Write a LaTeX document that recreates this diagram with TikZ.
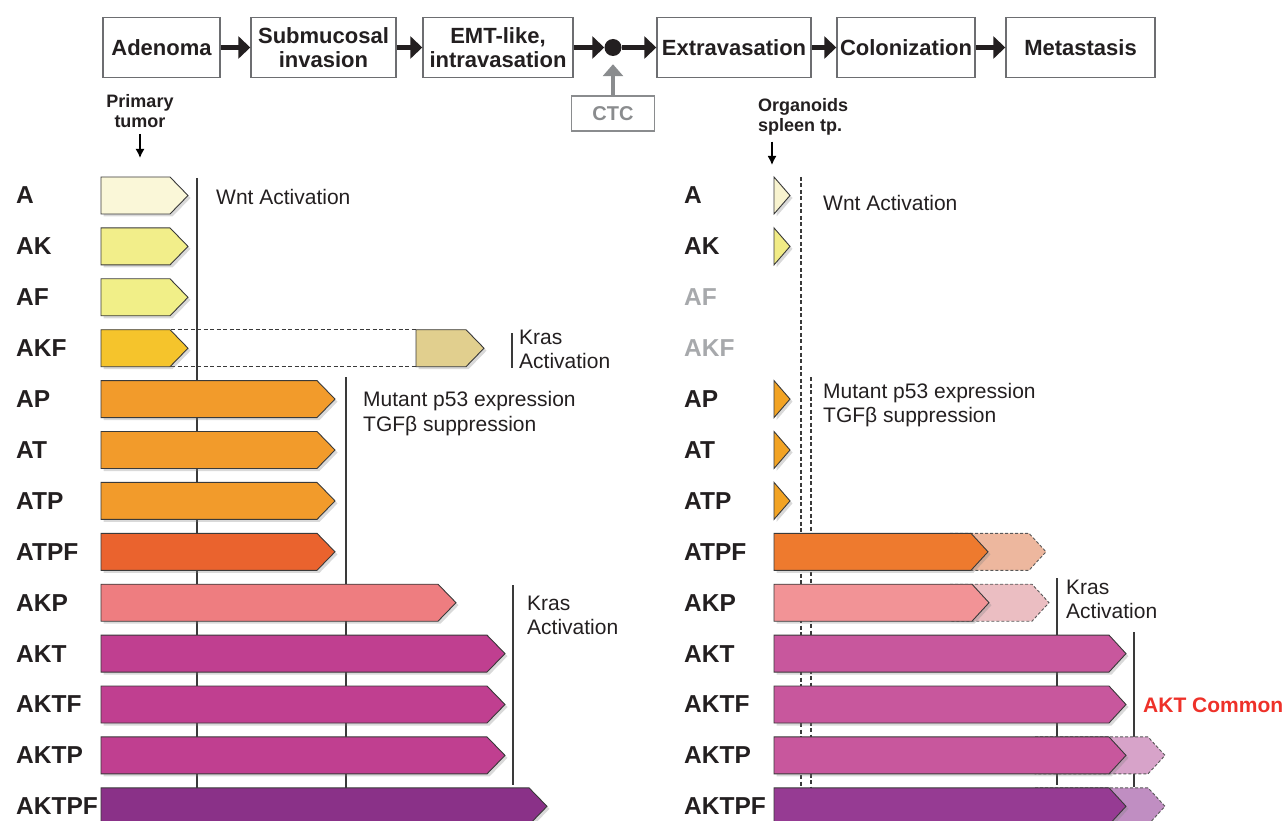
\documentclass[tikz,border=0pt]{standalone}
\usepackage{fontspec}
\setmainfont{Liberation Sans}
\usepackage{xcolor}
\usepackage{tikz}
\usetikzlibrary{arrows.meta,positioning,shadows}
\definecolor{Ink}{HTML}{231F20}
\definecolor{FrameGray}{HTML}{6D6E71}
\definecolor{CtcGray}{HTML}{8A8C8E}
\definecolor{DimLabel}{HTML}{A7A9AC}
\definecolor{BarEdge}{HTML}{3A3A3A}
\definecolor{CreamA}{HTML}{FAF7D8}
\definecolor{LemonAK}{HTML}{F2EE8A}
\definecolor{LemonAF}{HTML}{F1EF88}
\definecolor{GoldAKF}{HTML}{F5C42C}
\definecolor{KhakiAKF}{HTML}{E1CF8E}
\definecolor{OrangeP}{HTML}{F29B2B}
\definecolor{FlameATPF}{HTML}{EA632E}
\definecolor{SalmonAKP}{HTML}{EE7D80}
\definecolor{MagentaAKT}{HTML}{C03F90}
\definecolor{PlumAKTPF}{HTML}{8A3188}
\definecolor{OrgCream}{HTML}{F8F3CF}
\definecolor{OrgLemon}{HTML}{F1EB85}
\definecolor{OrgOrange}{HTML}{F2A324}
\definecolor{OrgFlame}{HTML}{EE7A2E}
\definecolor{OrgFlameFade}{HTML}{EDB79E}
\definecolor{OrgSalmon}{HTML}{F29396}
\definecolor{OrgSalmonFade}{HTML}{EBBEC2}
\definecolor{OrgMagenta}{HTML}{C8579D}
\definecolor{OrgMagentaFade}{HTML}{D7A3C9}
\definecolor{OrgPlum}{HTML}{963B93}
\definecolor{OrgPlumFade}{HTML}{C08EC2}
\definecolor{AktRed}{HTML}{EE3129}

\begin{document}
\begin{tikzpicture}[x=1pt, y=-1pt, >=Latex]
\tikzset{stage/.style={draw=FrameGray, line width=1.4pt, fill=white, align=center, text=Ink, font=\fontsize{22}{24}\selectfont\bfseries, inner sep=2pt, minimum height=60pt}, flow/.style={-{Triangle[length=12pt,width=22pt]}, line width=4.5pt, color=Ink}, rowlabel/.style={anchor=west, inner sep=0pt, text=Ink, font=\fontsize{24.5}{28}\selectfont\bfseries}, note/.style={anchor=west, align=left, inner sep=0pt, text=Ink, font=\fontsize{21}{24.5}\selectfont}, cue/.style={align=center, inner sep=0pt, text=Ink, font=\fontsize{18}{20}\selectfont\bfseries}, barline/.style={draw=BarEdge, line width=.9pt, line join=miter}, ghost/.style={draw=BarEdge!85, line width=.9pt, dash pattern=on 3pt off 2pt}, shade/.style={drop shadow={shadow xshift=2.5pt, shadow yshift=-2.5pt, opacity=.3}}, marker/.style={line width=1.2pt, color=BarEdge}, dashmark/.style={line width=1.1pt, color=BarEdge, dash pattern=on 4pt off 2.5pt}}
\useasboundingbox (0,0) rectangle (1286,821);
% progression steps
\node[stage, minimum width=117pt] (adenoma) at (161.5,47.5) {Adenoma};
\node[stage, minimum width=145pt] (submucosal) at (323.5,47.5) {Submucosal\\invasion};
\node[stage, minimum width=150pt] (emt) at (498,47.5) {EMT-like,\\intravasation};
\node[circle, fill=Ink, minimum size=17pt, inner sep=0pt] (ctcdot) at (613,47.5) {};
\node[stage, minimum width=154pt] (extravasation) at (734,47.5) {Extravasation};
\node[stage, minimum width=138pt] (colonization) at (906,47.5) {Colonization};
\node[stage, minimum width=149pt] (metastasis) at (1080.5,47.5) {Metastasis};
\node[stage, draw=CtcGray, text=CtcGray, font=\fontsize{20}{22}\selectfont\bfseries, minimum width=83pt, minimum height=35pt] (ctc) at (613,113.5) {CTC};
\draw[flow] (adenoma) -- (submucosal);
\draw[flow] (submucosal) -- (emt);
\draw[flow] (emt) -- (ctcdot);
\draw[flow] (ctcdot) -- (extravasation);
\draw[flow] (extravasation) -- (colonization);
\draw[flow] (colonization) -- (metastasis);
\draw[-{Triangle[length=12pt,width=20pt]}, line width=4pt, color=CtcGray, shorten >=8pt] (ctc) -- (ctcdot);
\node[cue] (primary) at (140,111) {Primary\\tumor};
\coordinate (leftstart) at (140,158);
\draw[-{Latex[length=9pt,width=9pt]}, line width=1.5pt, shorten <=6pt] (primary) -- (leftstart);
\node[cue, align=left, anchor=west] (organoids) at (758,117) {Organoids\\spleen tp.};
\coordinate (rightstart) at (772,165);
\draw[-{Latex[length=9pt,width=9pt]}, line width=1.5pt, shorten <=6pt] (organoids.south -| rightstart) -- (rightstart);
% primary tumor lines
\draw[marker] (197,178) -- (197,821);
\draw[marker] (346,377) -- (346,821);
\draw[marker] (512,333) -- (512,368);
\draw[marker] (513,585) -- (513,785);
\draw[dashmark] (171,329.7) -- (416,329.7);
\draw[dashmark] (171,366.7) -- (416,366.7);
\draw[barline, shade, fill=KhakiAKF] (416,329.7) -- (466,329.7) -- (484,348.2) -- (466,366.7) -- (416,366.7) -- cycle;
\foreach \i/\tipx/\barcol in {0/188/CreamA,1/188/LemonAK,2/188/LemonAF,3/188/GoldAKF,4/335/OrangeP,5/335/OrangeP,6/335/OrangeP,7/335/FlameATPF,8/456/SalmonAKP,9/505/MagentaAKT,10/505/MagentaAKT,11/505/MagentaAKT,12/547/PlumAKTPF} {
  \pgfmathsetmacro\rowtop{177+50.9*\i}
  \draw[barline, shade, fill=\barcol] (101,\rowtop) -- (\tipx-18,\rowtop) -- (\tipx,\rowtop+18.5) -- (\tipx-18,\rowtop+37) -- (101,\rowtop+37) -- cycle;
}
\foreach \lab [count=\i from 0] in {A,AK,AF,AKF,AP,AT,ATP,ATPF,AKP,AKT,AKTF,AKTP,AKTPF} {
  \node[rowlabel] (left\lab) at (16,195.5+50.9*\i) {\lab};
}
\node[note] (wntleft) at (216,197) {Wnt Activation};
\node[note] (krasleft) at (519,349.5) {Kras\\Activation};
\node[note] (p53left) at (363,413.5) {Mutant p53 expression\\TGFβ suppression};
\node[note] (kraslow) at (527,615.5) {Kras\\Activation};
% organoid lines
\draw[dashmark] (801,177) -- (801,821);
\draw[dashmark] (811,377) -- (811,821);
\draw[marker] (1057,578) -- (1057,785);
\draw[marker] (1134,632) -- (1134,787);
\foreach \i/\xfrom/\tipx/\barcol in {7/950/1046/OrgFlameFade,8/950/1049/OrgSalmonFade,11/1035/1165/OrgMagentaFade,12/1035/1165/OrgPlumFade} {
  \pgfmathsetmacro\rowtop{177+50.9*\i}
  \draw[ghost, fill=\barcol] (\xfrom,\rowtop) -- (\tipx-17,\rowtop) -- (\tipx,\rowtop+18.5) -- (\tipx-17,\rowtop+37) -- (\xfrom,\rowtop+37) -- cycle;
}
\foreach \i/\barcol in {0/OrgCream,1/OrgLemon,4/OrgOrange,5/OrgOrange,6/OrgOrange} {
  \pgfmathsetmacro\rowtop{177+50.9*\i}
  \draw[barline, shade, fill=\barcol] (774,\rowtop) -- (790,\rowtop+18.5) -- (774,\rowtop+37) -- cycle;
}
\foreach \i/\tipx/\barcol in {7/988/OrgFlame,8/989/OrgSalmon,9/1126/OrgMagenta,10/1126/OrgMagenta,11/1126/OrgMagenta,12/1126/OrgPlum} {
  \pgfmathsetmacro\rowtop{177+50.9*\i}
  \draw[barline, shade, fill=\barcol] (774,\rowtop) -- (\tipx-17,\rowtop) -- (\tipx,\rowtop+18.5) -- (\tipx-17,\rowtop+37) -- (774,\rowtop+37) -- cycle;
}
\foreach \lab/\labcol [count=\i from 0] in {A/Ink,AK/Ink,AF/DimLabel,AKF/DimLabel,AP/Ink,AT/Ink,ATP/Ink,ATPF/Ink,AKP/Ink,AKT/Ink,AKTF/Ink,AKTP/Ink,AKTPF/Ink} {
  \node[rowlabel, text=\labcol] (right\lab) at (684,195.5+50.9*\i) {\lab};
}
\node[note] (wntright) at (823,203) {Wnt Activation};
\node[note] (p53right) at (823,405) {Mutant p53 expression\\TGFβ suppression};
\node[note] (krasright) at (1066,599.5) {Kras\\Activation};
\node[note, text=AktRed, font=\fontsize{21}{24}\selectfont\bfseries] (aktcommon) at (1143,705) {AKT Common};
\end{tikzpicture}
\end{document}
